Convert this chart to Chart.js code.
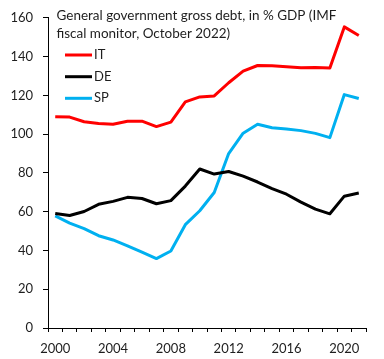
<!DOCTYPE html>
<html><head><meta charset="utf-8">
<script src="https://cdn.jsdelivr.net/npm/chart.js@4"></script>
<style>html,body{margin:0;padding:0;background:#fff}#wrap{width:384px;height:359px}</style>
</head><body><div id="wrap"><canvas id="c" width="384" height="359"></canvas></div>
<script>
const years = ['2000','2001','2002','2003','2004','2005','2006','2007','2008','2009','2010','2011','2012','2013','2014','2015','2016','2017','2018','2019','2020','2021'];
const IT = [109.0,108.8,106.4,105.5,105.1,106.6,106.7,103.9,106.2,116.6,119.2,119.7,126.5,132.5,135.4,135.3,134.8,134.2,134.4,134.1,155.3,150.9];
const DE = [59.1,58.0,60.1,63.8,65.3,67.4,66.8,64.1,65.7,73.2,82.0,79.4,80.7,78.3,75.3,71.9,69.0,64.9,61.3,58.9,68.0,69.6];
const SP = [57.8,54.1,51.3,47.6,45.4,42.4,39.1,35.8,39.7,53.3,60.5,69.9,90.0,100.5,105.1,103.3,102.7,101.8,100.4,98.2,120.4,118.4];
const yTicks = [0,20,40,60,80,100,120,140,160];
const titleLines = ['General government gross debt, in % GDP (IMF','fiscal monitor, October 2022)'];

const FONT = 'Lato, "Liberation Sans", sans-serif';
const TXT = '#1e1e1e';

const overlay = {
  id:'overlay',
  afterDraw(chart){
    const ctx = chart.ctx;
    ctx.save();
    let fs = 14;
    ctx.font = fs+'px '+FONT;
    const w = ctx.measureText(titleLines[0]).width;
    fs = fs*280/w;
    ctx.font = fs+'px '+FONT;
    ctx.fillStyle = TXT;
    ctx.textBaseline = 'middle';
    ctx.textAlign = 'left';
    ctx.fillText(titleLines[0], 56.5, 15.5);
    ctx.fillText(titleLines[1], 56.5, 33.3);
    const rows = [55, 76.7, 98.3];
    ctx.font = '13px '+FONT;
    chart.data.datasets.forEach((ds,i)=>{
      ctx.strokeStyle = ds.borderColor;
      ctx.lineWidth = 3;
      ctx.beginPath();
      ctx.moveTo(65, rows[i]); ctx.lineTo(92, rows[i]);
      ctx.stroke();
      ctx.fillStyle = TXT;
      ctx.fillText(ds.label, 94, rows[i]);
    });
    ctx.restore();
  }
};

new Chart(document.getElementById('c'), {
  type:'line',
  data:{labels:years, datasets:[
    {label:'IT', data:IT, borderColor:'#ff0000'},
    {label:'DE', data:DE, borderColor:'#000000'},
    {label:'SP', data:SP, borderColor:'#00b0f0'}
  ]},
  options:{
    responsive:false, animation:false,
    layout:{padding:{left:0,right:18,top:5.5,bottom:0}},
    elements:{line:{borderWidth:3,tension:0,borderCapStyle:'butt',borderJoinStyle:'round'},point:{radius:0}},
    plugins:{legend:{display:false},tooltip:{enabled:false}},
    scales:{
      x:{
        offset:true,
        grid:{offset:true,drawOnChartArea:false,drawTicks:true,tickLength:4,color:'#000',lineWidth:1},
        border:{display:true,color:'#000',width:1},
        ticks:{autoSkip:false,maxRotation:0,padding:9,color:TXT,font:{family:FONT,size:13},
          callback(v,i){ const y = +years[i]; return (y%4===0)? years[i] : ''; }},
        afterFit(s){ s.height = 31; }
      },
      y:{
        min:0,max:160,
        afterBuildTicks(s){ s.ticks = yTicks.map(v=>({value:v})); },
        grid:{drawOnChartArea:false,drawTicks:true,tickLength:5,color:'#000'},
        border:{display:true,color:'#000',width:1},
        ticks:{padding:10,color:TXT,font:{family:FONT,size:13}},
        afterFit(s){ s.width = 48; }
      }
    }
  },
  plugins:[overlay]
});
</script></body></html>
